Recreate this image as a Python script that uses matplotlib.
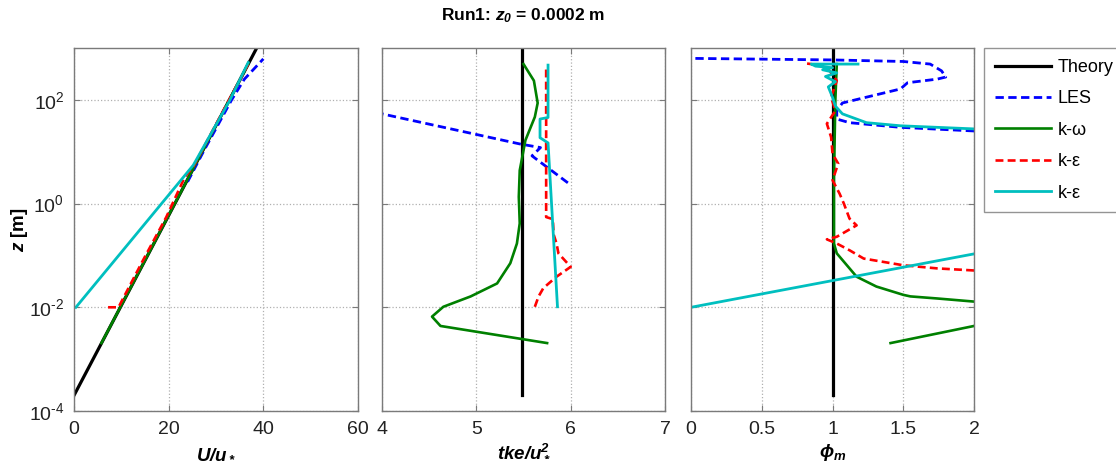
import numpy as np
import matplotlib
matplotlib.use("Agg")
import matplotlib.pyplot as plt

plt.rcParams['font.family'] = ['Liberation Sans', 'DejaVu Sans']
plt.rcParams['mathtext.fontset'] = 'custom'
plt.rcParams['mathtext.rm'] = 'Liberation Sans'
plt.rcParams['mathtext.it'] = 'Liberation Sans:italic'
plt.rcParams['mathtext.bf'] = 'Liberation Sans:bold'
plt.rcParams['mathtext.bfit'] = 'Liberation Sans:italic:bold'

# heights are given as log10(z [m])
# --- panel 1: U/u*
theory_u = [0.0, 38.6]
theory_logz = [-3.70, 3.0]
les_u = [24.0, 27.5, 33.3, 36.0, 40.0]
les_u_logz = [0.42, 1.03, 2.0, 2.4, 2.79]
kw_u = [5.8, 36.8]
kw_u_logz = [-2.69, 2.69]
ke_u = [7.2, 9.4, 14.6, 19.5, 23.4, 25.2, 36.8]
ke_u_logz = [-2.0, -2.0, -1.09, -0.26, 0.51, 0.71, 2.69]
ke2_u = [0.4, 25.2, 32.9, 36.8]
ke2_u_logz = [-2.0, 0.74, 1.99, 2.72]

# --- panel 2: tke/u*^2
theory_tke = [5.48, 5.48]
les_tke = [5.97, 5.59, 5.68, 5.46, 4.0]
les_tke_logz = [0.40, 0.92, 1.08, 1.15, 1.73]
kw_tke = [5.75, 4.62, 4.53, 4.65, 4.94, 5.22, 5.36, 5.43, 5.46, 5.45, 5.46,
          5.52, 5.62, 5.65, 5.61, 5.50]
kw_tke_logz = [-2.69, -2.36, -2.18, -1.99, -1.79, -1.54, -1.15, -0.77, -0.38,
               0.13, 0.64, 1.22, 1.67, 1.94, 2.37, 2.69]
ke_tke = [5.62, 5.66, 5.71, 5.85, 6.0, 5.87, 5.85, 5.82, 5.81, 5.74, 5.74]
ke_tke_logz = [-1.99, -1.79, -1.63, -1.41, -1.22, -0.96, -0.77, -0.6, -0.30,
               -0.26, 2.66]
ke2_tke = [5.86, 5.76, 5.675, 5.675, 5.76, 5.76]
ke2_tke_logz = [-1.99, 1.17, 1.27, 1.63, 1.66, 2.67]

# --- panel 3: phi_m
theory_phi = [1.0, 1.0]
les_phi = [2.0, 1.48, 1.12, 1.03, 1.03, 1.07, 1.48, 1.53, 1.74, 1.80, 1.77,
           1.69, 1.5, 1.0, 0.0]
les_phi_logz = [1.40, 1.47, 1.56, 1.63, 1.79, 1.94, 2.21, 2.33, 2.40, 2.44,
                2.56, 2.69, 2.74, 2.77, 2.80]
kw_phi = [1.41, 2.0, np.nan, 2.0, 1.74, 1.55, 1.5, 1.31, 1.17, 1.03, 1.01,
          1.01, 1.02, 1.03]
kw_phi_logz = [-2.69, -2.36, -2.1, -1.89, -1.83, -1.79, -1.76, -1.60, -1.41,
               -0.96, -0.77, 0.5, 2.0, 2.69]
ke_phi = [2.0, 1.74, 1.5, 1.22, 1.12, 1.03, 0.96, 1.03, 1.17, 1.12, 1.08,
          1.05, 1.0, 1.04, 1.0, 0.99, 0.96, 1.02, 0.99, 1.03, 0.98, 0.91, 0.82]
ke_phi_logz = [-1.29, -1.25, -1.19, -1.06, -0.90, -0.77, -0.69, -0.64, -0.42,
               -0.29, 0.0, 0.19, 0.45, 0.77, 0.96, 1.28, 1.54, 1.79, 2.05,
               2.37, 2.56, 2.67, 2.70]
ke2_phi = [0.0, 2.0, np.nan, 2.0, 1.48, 1.24, 1.07, 1.02, 1.0, 0.97, 1.02,
           0.95, 1.03, 0.93, 1.0, 0.88, 0.85, 1.18]
ke2_phi_logz = [-2.0, -0.97, 0.2, 1.44, 1.50, 1.56, 1.73, 1.88, 2.05, 2.25,
                2.35, 2.45, 2.52, 2.58, 2.62, 2.65, 2.69, 2.69]

cyan = '#00BFBF'
green = '#008000'
frame = '#7a7a7a'

fig = plt.figure(figsize=(11.16, 4.66), dpi=100)
ax1 = fig.add_axes([0.0663, 0.118, 0.2545, 0.779])
ax2 = fig.add_axes([0.3423, 0.118, 0.2536, 0.779])
ax3 = fig.add_axes([0.6192, 0.118, 0.2536, 0.779])


def z(logz):
    return 10.0 ** np.asarray(logz, dtype=float)


def draw(ax, th, les, kw, ke, ke2):
    ax.plot(th[0], z(th[1]), color='k', lw=2.3, label='Theory')
    ax.plot(les[0], z(les[1]), color='b', lw=2.0, ls=(0, (3, 1.6)), label='LES')
    ax.plot(kw[0], z(kw[1]), color=green, lw=1.9, label='k-ω')
    ax.plot(ke[0], z(ke[1]), color='r', lw=1.9, ls=(0, (3, 1.6)), label='k-ε')
    ax.plot(ke2[0], z(ke2[1]), color=cyan, lw=2.0, label='k-ε')


draw(ax1, (theory_u, theory_logz), (les_u, les_u_logz), (kw_u, kw_u_logz),
     (ke_u, ke_u_logz), (ke2_u, ke2_u_logz))
draw(ax2, (theory_tke, theory_logz), (les_tke, les_tke_logz),
     (kw_tke, kw_tke_logz), (ke_tke, ke_tke_logz), (ke2_tke, ke2_tke_logz))
draw(ax3, (theory_phi, theory_logz), (les_phi, les_phi_logz),
     (kw_phi, kw_phi_logz), (ke_phi, ke_phi_logz), (ke2_phi, ke2_phi_logz))

limits = [(0, 60, [0, 20, 40, 60], ['0', '20', '40', '60']),
          (4, 7, [4, 5, 6, 7], ['4', '5', '6', '7']),
          (0, 2, [0, 0.5, 1, 1.5, 2], ['0', '0.5', '1', '1.5', '2'])]
for ax, (lo, hi, ticks, labels) in zip([ax1, ax2, ax3], limits):
    ax.set_yscale('log')
    ax.set_ylim(1e-4, 1e3)
    ax.set_xlim(lo, hi)
    ax.set_xticks(ticks)
    ax.set_xticklabels(labels)
    ax.set_yticks([1e-4, 1e-2, 1e0, 1e2])
    ax.yaxis.set_minor_locator(matplotlib.ticker.NullLocator())
    ax.grid(True, color='#b0b0b0', ls=':', lw=0.9)
    ax.tick_params(direction='in', top=True, right=True, labelsize=14,
                   color=frame, length=4, pad=7, labelcolor='#222222')
    for s in ax.spines.values():
        s.set_color(frame)
        s.set_linewidth(1.0)

ax1.set_yticklabels([r'$10^{\text{-}4}$', r'$10^{\text{-}2}$', r'$10^{0}$',
                     r'$10^{2}$'])
ax2.set_yticklabels([])
ax3.set_yticklabels([])

ax1.set_ylabel(r'$\mathbfit{z}$ [m]', fontsize=13.5, fontweight='bold')
ax1.yaxis.set_label_coords(-0.155, 0.5)
ax1.set_xlabel(r'$\mathbfit{U/u_*}$', fontsize=13.5, labelpad=5)
ax2.set_xlabel(r'$\mathbfit{tke/u_*^2}$', fontsize=13.5, labelpad=3)
ax3.set_xlabel(r'$\mathbfit{\phi_m}$', fontsize=13.5, labelpad=3)
ax2.set_title(r'Run1: $\mathbfit{z_0}$ = 0.0002 m', fontsize=12.5,
              fontweight='bold', pad=20)

h, l = ax3.get_legend_handles_labels()
leg = fig.legend(h, l, loc='upper left', bbox_to_anchor=(0.882, 0.897),
                 borderaxespad=0, fontsize=13, handlelength=3.1,
                 labelspacing=0.8, fancybox=False, borderpad=0.6,
                 handletextpad=0.35)
leg.get_frame().set_edgecolor(frame)
leg.get_frame().set_linewidth(1.0)

fig.savefig('out.png', dpi=100)
